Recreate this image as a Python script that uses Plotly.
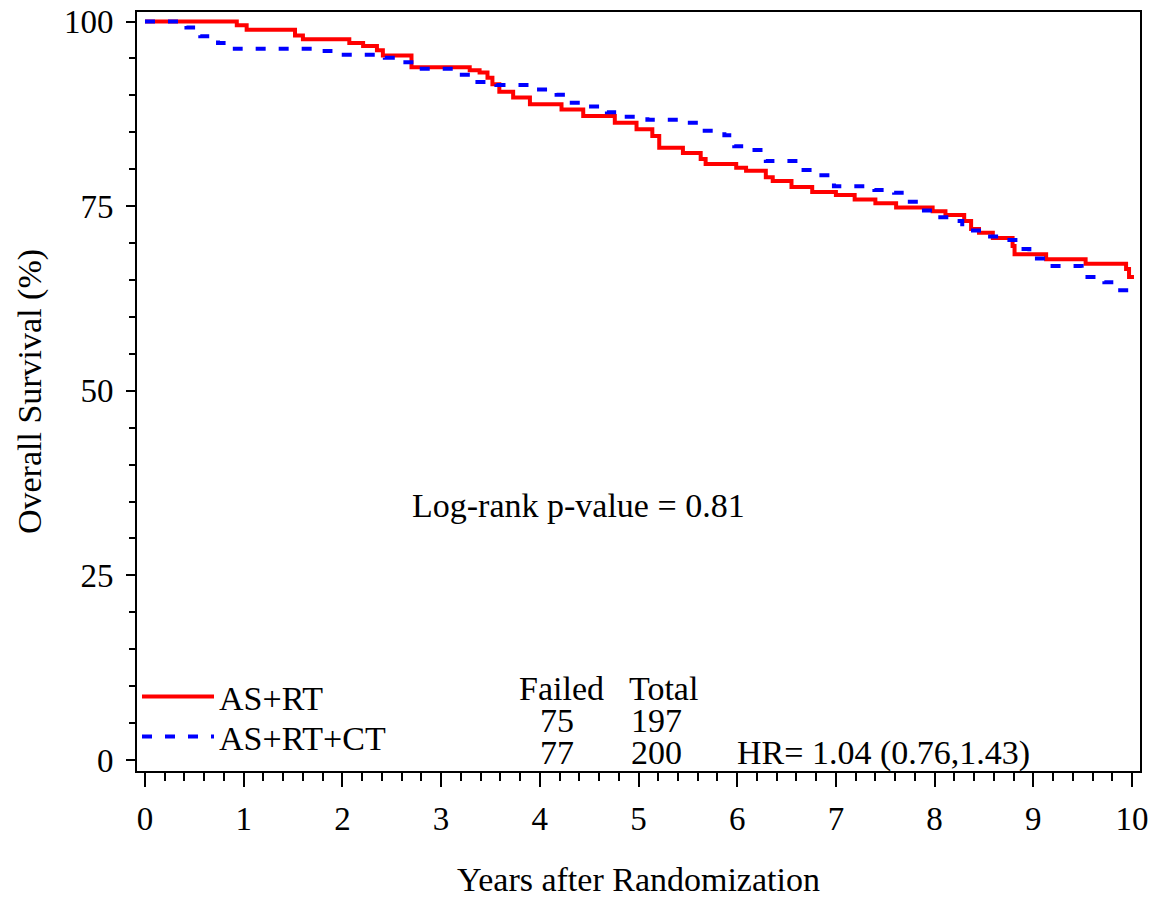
import plotly.graph_objects as go

# AS+RT (red, solid)
t_asrt = [0, 0.93, 1.03, 1.52, 1.60, 2.07, 2.21, 2.35, 2.41, 2.70, 3.29, 3.39, 3.47, 3.52,
          3.59, 3.73, 3.90, 4.22, 4.44, 4.76, 4.98, 5.14, 5.21, 5.45, 5.63, 5.68, 5.99, 6.09,
          6.29, 6.36, 6.55, 6.76, 7.00, 7.19, 7.40, 7.61, 7.98, 8.11, 8.30, 8.37, 8.45, 8.59,
          8.79, 8.81, 9.13, 9.53, 9.94, 9.97, 10.02]
s_asrt = [100, 99.5, 98.9, 98.1, 97.6, 97.1, 96.7, 96.1, 95.4, 93.8, 93.4, 93.1, 92.4, 91.5,
          90.5, 89.7, 88.8, 88.1, 87.2, 86.3, 85.4, 84.5, 82.9, 82.2, 81.4, 80.7, 80.2, 79.8,
          78.9, 78.4, 77.6, 76.9, 76.5, 75.9, 75.4, 74.8, 74.3, 73.8, 73.0, 71.9, 71.4, 70.7,
          69.6, 68.5, 67.8, 67.2, 66.5, 65.4, 65.4]

# AS+RT+CT (blue, dashed)
t_asrtct = [0, 0.42, 0.56, 0.74, 0.91, 1.82, 1.99, 2.43, 2.58, 2.76, 3.14, 3.34, 3.56, 3.95,
            4.17, 4.28, 4.47, 4.68, 4.86, 5.09, 5.47, 5.65, 5.87, 5.97, 6.13, 6.29, 6.63, 6.83,
            6.98, 7.39, 7.59, 7.69, 7.86, 8.00, 8.18, 8.28, 8.50, 8.67, 8.84, 8.96, 9.13, 9.49,
            9.72, 9.83, 10.02]
s_asrtct = [100, 99.2, 98.0, 97.1, 96.3, 96.0, 95.5, 95.1, 94.5, 93.6, 92.8, 91.8, 91.4, 90.8,
            90.1, 89.0, 88.5, 87.7, 87.1, 86.7, 86.3, 85.2, 84.6, 83.1, 82.6, 81.1, 79.9, 79.2,
            77.7, 77.2, 76.8, 75.6, 74.4, 73.5, 73.0, 71.7, 70.9, 70.4, 69.2, 67.9, 66.9, 65.4,
            64.7, 63.6, 63.0]

groups = ["AS+RT", "AS+RT+CT"]
failed = [75, 77]
total = [197, 200]
hr_text = "HR= 1.04 (0.76,1.43)"
pvalue_text = "Log-rank p-value = 0.81"
x_ticks = list(range(0, 11))
y_ticks = [0, 25, 50, 75, 100]

FONT = "Liberation Serif"
FS = 34

fig = go.Figure()
fig.add_trace(go.Scatter(x=t_asrt, y=s_asrt, mode="lines", line_shape="hv",
                         line=dict(color="#ff0000", width=4), name=groups[0], legend="legend"))
fig.add_trace(go.Scatter(x=t_asrtct, y=s_asrtct, mode="lines", line_shape="hv",
                         line=dict(color="#0000ff", width=4, dash="10px,13px"), name=groups[1],
                         legend="legend2"))

tf = dict(family=FONT, size=FS, color="black")
ann = []
ann.append(dict(x=4.22, y=9.7, text="Failed", showarrow=False, font=tf, xanchor="center", yanchor="middle"))
ann.append(dict(x=5.25, y=9.7, text="Total", showarrow=False, font=tf, xanchor="center", yanchor="middle"))
rows_y = [5.3, 0.95]
for i in range(2):
    ann.append(dict(x=4.17, y=rows_y[i], text=str(failed[i]), showarrow=False, font=tf,
                    xanchor="center", yanchor="middle"))
    ann.append(dict(x=5.18, y=rows_y[i], text=str(total[i]), showarrow=False, font=tf,
                    xanchor="center", yanchor="middle"))
ann.append(dict(x=5.98, y=0.95, text=hr_text, showarrow=False, font=tf, xanchor="left", yanchor="middle"))
ann.append(dict(x=4.39, y=34.5, text=pvalue_text, showarrow=False, font=tf, xanchor="center", yanchor="middle"))

leg_common = dict(x=0, xanchor="left", yanchor="middle", bgcolor="rgba(0,0,0,0)",
                  font=dict(family=FONT, size=FS, color="black"), itemwidth=72)

# page body has an 8px margin, so the figure is 8px smaller than the window
fig.update_layout(
    width=1161, height=891,
    margin=dict(l=129, r=29, t=4, b=128, autoexpand=False),
    plot_bgcolor="white", paper_bgcolor="white",
    font=dict(family=FONT, size=FS, color="black"),
    showlegend=True,
    legend=dict(y=0.0975, **leg_common),
    legend2=dict(y=0.0448, **leg_common),
    annotations=ann,
    xaxis=dict(range=[-0.081, 10.081], tickvals=x_ticks, ticks="outside", ticklen=14,
               tickwidth=1.5, tickcolor="black", showline=True, linecolor="black", linewidth=2,
               mirror=True, showgrid=False, zeroline=False, automargin=False,
               ticklabeloverflow="allow",
               tickfont=dict(family=FONT, size=33, color="black"), ticklabelstandoff=3,
               minor=dict(dtick=0.2, ticks="outside", ticklen=8, tickwidth=1.5, tickcolor="black"),
               title=dict(text="Years after Randomization", font=dict(family=FONT, size=FS),
                          standoff=32)),
    yaxis=dict(range=[-1.49, 101.29], tickvals=y_ticks, ticks="outside", ticklen=9,
               tickwidth=1.5, tickcolor="black", showline=True, linecolor="black", linewidth=2,
               mirror=True, showgrid=False, zeroline=False, automargin=False,
               ticklabeloverflow="allow",
               tickfont=dict(family=FONT, size=33, color="black"), ticklabelstandoff=6,
               minor=dict(dtick=5, ticks="outside", ticklen=6, tickwidth=1.5, tickcolor="black"),
               title=dict(text="Overall Survival (%)", font=dict(family=FONT, size=FS),
                          standoff=12)),
)

fig.write_html("out.html")
